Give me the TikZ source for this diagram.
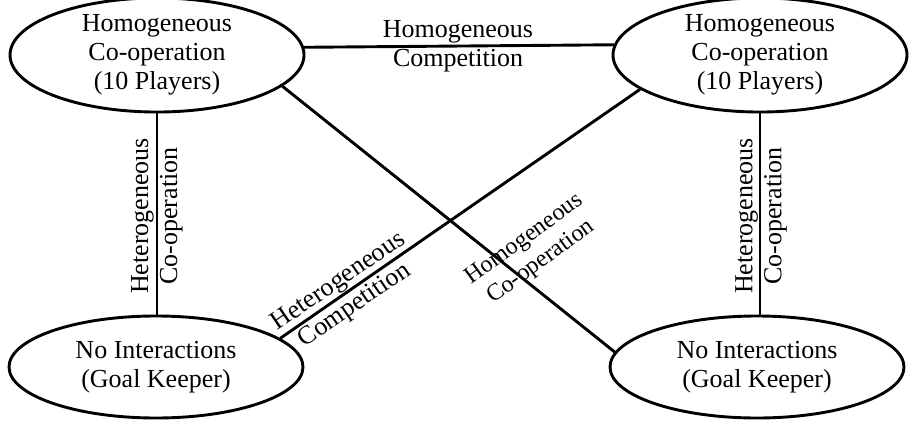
\documentclass[tikz,border=0pt]{standalone}
\usepackage{fontspec}
\setmainfont{Liberation Serif}
\usetikzlibrary{shapes.geometric}
\begin{document}
\begin{tikzpicture}[x=1pt,y=-1pt,
  every node/.style={font=\fontsize{26}{29}\selectfont},
  stateell/.style={draw, line width=2.9pt, ellipse, minimum width=294pt, minimum height=102pt, inner sep=0pt, align=center},
  conn/.style={line width=2.9pt},
  lbl/.style={align=center, inner sep=0pt}]
\useasboundingbox (0,0) rectangle (913,423);
\node[stateell] (tl) at (157,55) {Homogeneous\\Co-operation\\(10 Players)};
\node[stateell] (tr) at (760,55) {Homogeneous\\Co-operation\\(10 Players)};
\node[stateell] (bl) at (156,367) {No Interactions\\(Goal Keeper)};
\node[stateell] (br) at (757,367) {No Interactions\\(Goal Keeper)};
% horizontal
\draw[conn] (tl.3.5) -- (tr.176.5);
\node[lbl] (hc) at (458,46) {Homogeneous\\Competition};
% verticals
\draw[conn] (tl.south) -- (tl.south |- bl.north);
\node[lbl, rotate=90] (lv) at (157,216) {Heterogeneous\\Co-operation};
\draw[conn] (tr.south) -- (tr.south |- br.north);
\node[lbl, rotate=90] (rv) at (761,216) {Heterogeneous\\Co-operation};
% diagonals
\draw[conn] (tr.196.7) -- (bl.13.7);
\node[lbl, rotate=34.4] (d1) at (347,294) {Heterogeneous\\Competition};
\draw[conn] (tl.346.7) -- (br.174.3);
\node[lbl, rotate=36, font=\fontsize{24}{28}\selectfont] (d2) at (533,251) {Homogeneous\\Co-operation};
\end{tikzpicture}
\end{document}
